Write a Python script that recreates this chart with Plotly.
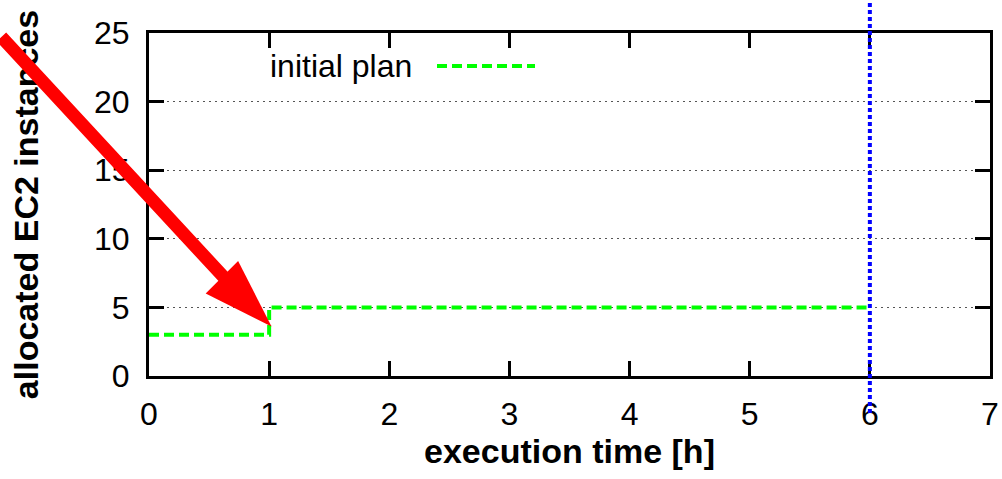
import math
import plotly.graph_objects as go

# ---------------- data ----------------
time_h = [0, 1, 6]              # step start times (hours)
instances = [3, 5, 5]           # allocated EC2 instances
deadline_h = 6                  # vertical dotted marker
x_ticks = [0, 1, 2, 3, 4, 5, 6, 7]
y_ticks = [0, 5, 10, 15, 20, 25]
series_name = "initial plan"
x_title = "execution time [h]"
y_title = "allocated EC2 instances"

# ---------------- layout / style ----------------
W, H = 1002, 479
M = dict(l=149, r=12, t=33, b=103)
X_RANGE = [0, 7]
Y_RANGE = [0, 25]
FONT = "Liberation Sans, Arial, Helvetica, sans-serif"
GREEN = "#00ff00"
BLUE = "#0000ff"
RED = "#ff0000"

PW = W - M["l"] - M["r"]
PH = H - M["t"] - M["b"]


def data_to_px(x, y):
    px = M["l"] + (x - X_RANGE[0]) / (X_RANGE[1] - X_RANGE[0]) * PW
    py = H - M["b"] - (y - Y_RANGE[0]) / (Y_RANGE[1] - Y_RANGE[0]) * PH
    return px, py


def px_to_paper(px, py):
    return (px - M["l"]) / PW, (H - M["b"] - py) / PH


fig = go.Figure()
fig.add_trace(go.Scatter(
    x=time_h, y=instances, mode="lines", name=series_name,
    line=dict(shape="hv", color=GREEN, width=4, dash="10px,5px"),
    showlegend=False, hoverinfo="skip",
))

axis_common = dict(
    ticks="inside", ticklen=15, tickwidth=3, tickcolor="black",
    showline=True, linewidth=3, linecolor="black", mirror="ticks",
    zeroline=False, automargin=False,
    tickfont=dict(family=FONT, size=32, color="black"),
)
fig.update_xaxes(range=X_RANGE, tickvals=x_ticks, showgrid=False,
                 ticklabelstandoff=8,
                 title=dict(text=x_title, standoff=8,
                            font=dict(family=FONT, size=34, color="black", weight="bold")),
                 **axis_common)
fig.update_yaxes(range=Y_RANGE, tickvals=y_ticks, showgrid=True,
                 gridcolor="#555", gridwidth=1, griddash="2px,4px",
                 ticklabelstandoff=10,
                 title=dict(text=y_title, standoff=46,
                            font=dict(family=FONT, size=34, color="black", weight="bold")),
                 **axis_common)

shapes = []
annotations = []

# vertical dotted marker (extends beyond plot area)
dx, _ = px_to_paper(*data_to_px(deadline_h, 0))
_, y_top = px_to_paper(0, 0)
_, y_bot = px_to_paper(0, 413)
shapes.append(dict(type="line", xref="paper", yref="paper", x0=dx, x1=dx,
                   y0=y_bot, y1=y_top, layer="above",
                   line=dict(color=BLUE, width=4, dash="4px,3px")))

# legend (gnuplot style: text then sample)
lx0, ly = px_to_paper(437, 66)
lx1, _ = px_to_paper(535, 66)
tx, _ = px_to_paper(414, 66)
annotations.append(dict(text=series_name, xref="paper", yref="paper", x=tx, y=ly,
                        xanchor="right", yanchor="middle", showarrow=False,
                        font=dict(family=FONT, size=32, color="black")))
shapes.append(dict(type="line", xref="paper", yref="paper", x0=lx0, x1=lx1,
                   y0=ly, y1=ly, layer="above",
                   line=dict(color=GREEN, width=4, dash="10px,5px")))

# red arrow
ARROW_TAIL = (-1.3, 23.8)
ARROW_TIP = (1.02, 3.6)
HEAD_LEN, HEAD_W, SHAFT_W = 70, 46, 13
tx_, ty_ = data_to_px(*ARROW_TAIL)
hx, hy = data_to_px(*ARROW_TIP)
L = math.hypot(hx - tx_, hy - ty_)
ux, uy = (hx - tx_) / L, (hy - ty_) / L
nx, ny = -uy, ux
bx, by = hx - ux * HEAD_LEN, hy - uy * HEAD_LEN
pts = [(bx + nx * HEAD_W / 2, by + ny * HEAD_W / 2), (hx, hy),
       (bx - nx * HEAD_W / 2, by - ny * HEAD_W / 2)]
pp = [px_to_paper(*p) for p in pts]
path = "M {} {} L {} {} L {} {} Z".format(pp[0][0], pp[0][1], pp[1][0], pp[1][1], pp[2][0], pp[2][1])
shapes.append(dict(type="path", xref="paper", yref="paper", path=path,
                   fillcolor=RED, line=dict(color=RED, width=0), layer="above"))
ex, ey = hx - ux * 35, hy - uy * 35
epx, epy = px_to_paper(ex, ey)
annotations.append(dict(text="", xref="paper", yref="paper", x=epx, y=epy,
                        showarrow=True, arrowhead=0, arrowwidth=SHAFT_W, arrowcolor=RED,
                        ax=tx_ - ex - 20 * ux, ay=ty_ - ey - 20 * uy, standoff=0))

fig.update_layout(
    width=W, height=H, margin=M, paper_bgcolor="white", plot_bgcolor="white",
    shapes=shapes, annotations=annotations, showlegend=False,
    font=dict(family=FONT, color="black"),
)

fig.write_html("out.html", config={"displayModeBar": False},
               post_script="document.body.style.margin='0';document.body.style.overflow='hidden';")
